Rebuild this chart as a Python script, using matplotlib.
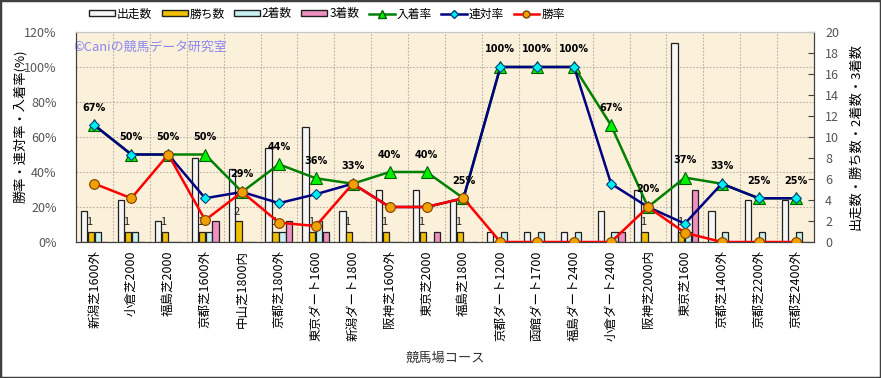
import matplotlib
matplotlib.use("Agg")
import matplotlib.pyplot as plt
import numpy as np
from matplotlib.patches import Patch, Rectangle
from matplotlib.lines import Line2D

plt.rcParams['font.family'] = ['Noto Sans CJK JP', 'DejaVu Sans']

courses = ['新潟芝1600外', '小倉芝2000', '福島芝2000', '京都芝1600外', '中山芝1800内',
           '京都芝1800外', '東京ダート1600', '新潟ダート1800', '阪神芝1600外', '東京芝2000',
           '福島芝1800', '京都ダート1200', '函館ダート1700', '福島ダート2400', '小倉ダート2400',
           '阪神芝2000内', '東京芝1600', '京都芝1400外', '京都芝2200外', '京都芝2400外']
starts = [3, 4, 2, 8, 7, 9, 11, 3, 5, 5, 4, 1, 1, 1, 3, 5, 19, 3, 4, 4]
wins = [1, 1, 1, 1, 2, 1, 1, 1, 1, 1, 1, 0, 0, 0, 0, 1, 1, 0, 0, 0]
seconds = [1, 1, 0, 1, 0, 1, 2, 0, 0, 0, 0, 1, 1, 1, 1, 0, 1, 1, 1, 1]
thirds = [0, 0, 0, 2, 0, 2, 1, 0, 0, 1, 0, 0, 0, 0, 1, 0, 5, 0, 0, 0]
win_rate = [33.3, 25, 50, 12.5, 28.6, 11.1, 9.1, 33.3, 20, 20, 25, 0, 0, 0, 0, 20, 5.3, 0, 0, 0]
rentai_rate = [66.7, 50, 50, 25, 28.6, 22.2, 27.3, 33.3, 20, 20, 25, 100, 100, 100, 33.3, 20, 10.5, 33.3, 25, 25]
place_rate = [66.7, 50, 50, 50, 28.6, 44.4, 36.4, 33.3, 40, 40, 25, 100, 100, 100, 66.7, 20, 36.8, 33.3, 25, 25]
left_ticks = [0, 20, 40, 60, 80, 100, 120]
right_ticks = [0, 2, 4, 6, 8, 10, 12, 14, 16, 18, 20]

W, H = 881, 378
fig = plt.figure(figsize=(W / 100, H / 100), dpi=100)
fig.patch.set_facecolor('white')
L, R, T, B = 76, 814, 32, 242
ax = fig.add_axes([L / W, 1 - B / H, (R - L) / W, (B - T) / H])
ax.set_facecolor('#FBF0DA')
ax2 = ax.twinx()
ax2.patch.set_visible(False)

x = np.arange(len(courses))
n = len(courses)
ax.set_xlim(-0.5, n - 0.5)
ax.set_ylim(0, 20)

# grid (behind bars)
for p in left_ticks[1:-1]:
    ax.axhline(p * 20 / 120, color='#B8B0A0', lw=0.8, ls=(0, (1.5, 1.5)), zorder=0.5)
for i in range(n - 1):
    ax.axvline(i + 0.5, color='#B8B0A0', lw=0.8, ls=(0, (1.5, 1.5)), zorder=0.5)

bw = 0.17
offs = [-0.28, -0.095, 0.095, 0.28]
cols = ['#F6F6F6', '#F0C000', '#C8F0F0', '#EE90C0']
for off, data, c in zip(offs, [starts, wins, seconds, thirds], cols):
    ax.bar(x + off, data, width=bw, color=c, edgecolor='#202020', linewidth=0.9, zorder=2)

for xi, w in zip(x, wins):
    if w > 0:
        ax.annotate(str(w), (xi - 0.14, w), xytext=(0, 3), textcoords='offset points',
                    ha='center', va='bottom', fontsize=8, color='#202020', zorder=3)

ax.yaxis.tick_right()
ax.yaxis.set_label_position('right')
ax.set_yticks(right_ticks)
ax.tick_params(axis='y', which='both', left=False, labelleft=False, right=True, labelright=True,
               direction='in', length=4, color='#404040', labelsize=9,
               labelcolor='#555555', pad=8)
ax.set_ylabel('出走数・勝ち数・2着数・3着数', fontsize=9.5, rotation=90)
ax.yaxis.set_label_coords((849 - L) / (R - L), 0.5)
ax.set_xticks(x)
ax.set_xticklabels(courses, rotation=90, fontsize=9)
ax.tick_params(axis='x', length=0, pad=6)

ax2.yaxis.tick_left()
ax2.yaxis.set_label_position('left')
ax2.set_ylim(0, 120)
ax2.set_yticks(left_ticks)
ax2.set_yticklabels([f'{t}%' for t in left_ticks])
ax2.tick_params(axis='y', which='both', left=True, labelleft=True, right=False, labelright=False,
                length=0, labelsize=9, labelcolor='#555555', pad=14)
ax2.set_ylabel('勝率・連対率・入着率(%)', fontsize=9.5)
ax2.yaxis.set_label_coords((27 - L) / (R - L), 0.55)

ax2.plot(x, place_rate, color='#008000', lw=1.8, marker='^', ms=8, mfc='#00F000',
         mec='#006000', mew=0.8, zorder=4)
ax2.plot(x, rentai_rate, color='#000080', lw=1.8, marker='D', ms=5.5, mfc='#00F0F0',
         mec='#004080', mew=0.8, zorder=5)
ax2.plot(x, win_rate, color='#FF0000', lw=1.8, marker='o', ms=7, mfc='#F0A000',
         mec='#804000', mew=0.8, zorder=6)
for xi, v in zip(x, place_rate):
    ax2.annotate(f'{round(v)}%', (xi, v), xytext=(0, 9), textcoords='offset points',
                 ha='center', va='bottom', fontsize=7, fontweight='bold', color='#000000',
                 family='DejaVu Sans', zorder=7)

for a in (ax, ax2):
    a.spines['top'].set_color('#C8C8C8')
    a.spines['left'].set_color('#404040')
    a.spines['bottom'].set_color('#404040')
    a.spines['right'].set_color('#404040')

ax.text(-0.004, 0.925, '©Caniの競馬データ研究室', transform=ax.transAxes, fontsize=9.3,
        color='#8888F0', ha='left', va='center', zorder=8)

fig.text((L + R) / 2 / W, 1 - 358 / H, '競馬場コース', ha='center', va='center', fontsize=9.5,
         color='#333333')

handles = [
    Patch(facecolor=cols[0], edgecolor='#202020', label='出走数'),
    Patch(facecolor=cols[1], edgecolor='#202020', label='勝ち数'),
    Patch(facecolor=cols[2], edgecolor='#202020', label='2着数'),
    Patch(facecolor=cols[3], edgecolor='#202020', label='3着数'),
    Line2D([], [], color='#008000', lw=1.8, marker='^', ms=6, mfc='#00F000', mec='#006000', label='入着率'),
    Line2D([], [], color='#000080', lw=1.8, marker='D', ms=4, mfc='#00F0F0', mec='#004080', label='連対率'),
    Line2D([], [], color='#FF0000', lw=1.8, marker='o', ms=5, mfc='#F0A000', mec='#804000', label='勝率'),
]
fig.legend(handles=handles, loc='center', bbox_to_anchor=(327 / W, 1 - 14 / H), ncol=7,
           frameon=False, fontsize=8.5, handlelength=2.2, handleheight=0.35, columnspacing=0.8,
           handletextpad=0.15, borderaxespad=0)

fig.add_artist(Rectangle((0, 0), 1, 1, transform=fig.transFigure, fill=False,
                         edgecolor='#404040', lw=2.5))

fig.savefig('out.png', dpi=100, facecolor='white')
